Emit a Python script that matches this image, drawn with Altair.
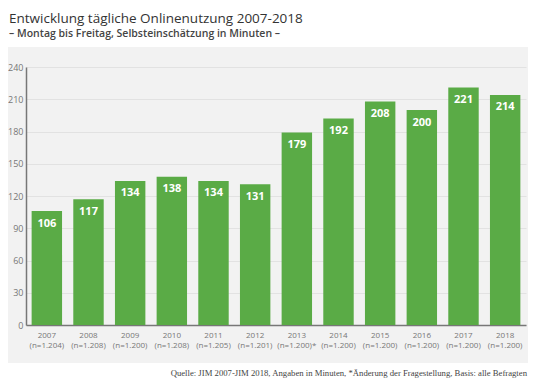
import altair as alt
import pandas as pd

years = ["2007", "2008", "2009", "2010", "2011", "2012",
         "2013", "2014", "2015", "2016", "2017", "2018"]
samples = ["(n=1.204)", "(n=1.208)", "(n=1.200)", "(n=1.208)", "(n=1.205)", "(n=1.201)",
           "(n=1.200)*", "(n=1.200)", "(n=1.200)", "(n=1.200)", "(n=1.200)", "(n=1.200)"]
minutes = [106, 117, 134, 138, 134, 131, 179, 192, 208, 200, 221, 214]
y_ticks = [0, 30, 60, 90, 120, 150, 180, 210, 240]

title_text = "Entwicklung tägliche Onlinenutzung 2007-2018"
subtitle_text = "– Montag bis Freitag, Selbsteinschätzung in Minuten –"
source_text = ("Quelle: JIM 2007-JIM 2018, Angaben in Minuten, "
               "*Änderung der Fragestellung, Basis: alle Befragten")

df = pd.DataFrame({
    "cat": [y + "\n" + n for y, n in zip(years, samples)],
    "minutes": minutes,
})
one = pd.DataFrame({"k": [0]})

W, H = 500, 258
PL, PT = 18, 59
PR = 520 - PL - W
PB = 370 - PT - H

FONT = "Open Sans"

x_enc = alt.X(
    "cat:N", sort=None, title=None,
    scale=alt.Scale(paddingInner=0.27, paddingOuter=0.135),
    axis=alt.Axis(
        labelExpr="split(datum.value, '\\n')", labelAngle=0, labelFontSize=8,
        labelColor="#777777", labelLineHeight=10, labelPadding=6, ticks=False,
        domainColor="#777777", domainWidth=1.5, grid=False, labelFont=FONT,
        labelOverlap=False,
    ),
)
y_enc = alt.Y(
    "minutes:Q", title=None,
    scale=alt.Scale(domain=[0, 240], nice=False),
    axis=alt.Axis(
        values=y_ticks, labelFontSize=9, labelColor="#777777", labelPadding=3,
        ticks=False, domainColor="#777777", domainWidth=1.5, labelOverlap=False,
        gridColor="#e2e2e2", gridWidth=1, labelFont=FONT,
    ),
)

bars = alt.Chart(df).mark_bar(color="#5aab46").encode(x=x_enc, y=y_enc)

labels = alt.Chart(df).mark_text(
    color="white", fontWeight="bold", fontSize=11, baseline="alphabetic",
    dy=15.5, font=FONT,
).encode(x=x_enc, y=y_enc, text="minutes:Q")

top_white = alt.Chart(one).mark_rect(color="white").encode(
    x=alt.value(-40), x2=alt.value(W + 20), y=alt.value(-PT - 2), y2=alt.value(-20)
)
bottom_white = alt.Chart(one).mark_rect(color="white").encode(
    x=alt.value(-40), x2=alt.value(W + 20), y=alt.value(296), y2=alt.value(H + PB + 2)
)

title = alt.Chart(one).mark_text(
    align="left", baseline="alphabetic", fontSize=13.5, color="#333333",
    font=FONT, fontWeight=500,
).encode(x=alt.value(-PL + 1), y=alt.value(-44.3), text=alt.value(title_text))

subtitle = alt.Chart(one).mark_text(
    align="left", baseline="alphabetic", fontSize=10.5, color="#444444",
    font=FONT, fontWeight=600,
).encode(x=alt.value(-PL + 1), y=alt.value(-30.5), text=alt.value(subtitle_text))

source = alt.Chart(one).mark_text(
    align="right", baseline="alphabetic", fontSize=8.7, color="#444444",
    font="Liberation Serif",
).encode(x=alt.value(W + PR - 1), y=alt.value(309), text=alt.value(source_text))

chart = alt.layer(
    bars, labels, top_white, bottom_white, title, subtitle, source
).properties(
    width=W, height=H,
    padding={"left": PL, "top": PT, "right": PR, "bottom": PB},
    autosize=alt.AutoSizeParams(type="none"),
).configure(background="#f2f2f2").configure_view(stroke=None)

chart.save("out.html", embed_options={"renderer": "svg", "actions": False})
